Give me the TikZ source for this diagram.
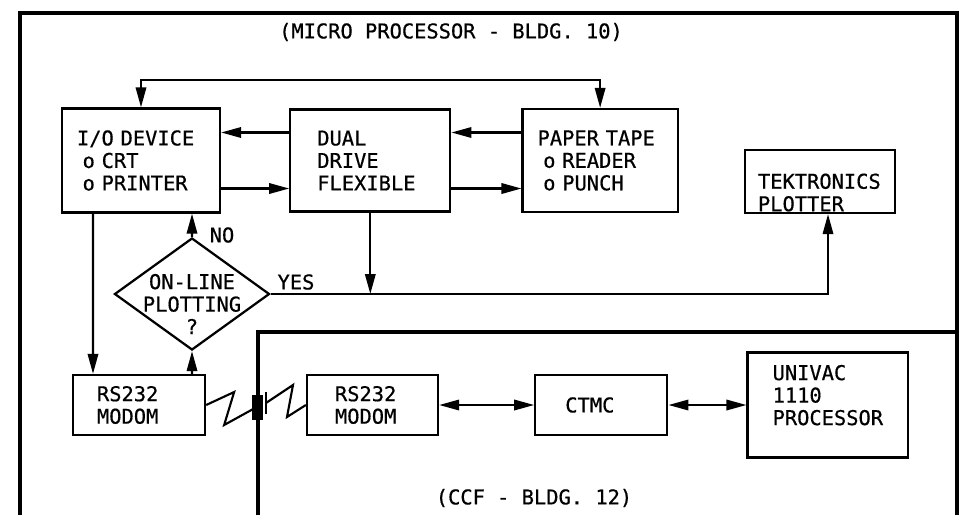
\documentclass[tikz,border=0pt]{standalone}
\usepackage{fontspec}
\newfontfamily\plotfont[FakeBold=0.6]{DejaVu Sans Mono}
\usetikzlibrary{positioning,arrows.meta,calc,shapes.geometric}
\tikzset{
  flow/.style={-{Triangle[length=5mm,width=2.6mm]},line width=1.5pt},
  dflow/.style={{Triangle[length=5mm,width=2.6mm]}-{Triangle[length=5mm,width=2.6mm]},line width=1.5pt},
  wire/.style={line width=1.5pt,line join=miter},
  wall/.style={line width=3.4pt},
  box/.style={draw,line width=1.6pt,align=left,inner ysep=0pt,
    font=\plotfont\fontsize{14.5}{16}\selectfont},
  decision/.style={diamond,draw,line width=1.6pt,inner sep=0pt,
    minimum width=3.875cm,minimum height=2.8cm},
  caption/.style={inner sep=0pt,align=center,
    font=\plotfont\fontsize{14.5}{16}\selectfont}
}

\begin{document}
\begin{tikzpicture}[x=0.025cm,y=-0.025cm]
  \useasboundingbox (0,0) rectangle (971,515);
  % building walls
  \draw[wall] (20,515) -- (20,13) -- (957,13) -- (957,515);
  \draw[wall] (258,515) -- (258,332) -- (957,332);
  \node[caption] (micro) at (451,32) {(MICRO PROCESSOR - BLDG. 10)};
  \node[caption] (ccf) at (534,498) {(CCF - BLDG. 12)};

  % micro processor side
  \node[box,minimum width=3.95cm,minimum height=2.6cm,inner xsep=0.375cm,text width=3.2cm]
    (io) at (141,160.5) {I/O DEVICE\\\hspace*{4pt}o CRT\\\hspace*{4pt}o PRINTER};
  \node[box,right=1.7cm of io,minimum width=4cm,minimum height=2.55cm,inner xsep=0.675cm,text width=2.65cm]
    (dual) {DUAL\\DRIVE\\FLEXIBLE};
  \node[box,right=1.75cm of dual,minimum width=3.875cm,minimum height=2.575cm,inner xsep=0.375cm,text width=3.125cm]
    (tape) {PAPER TAPE\\\hspace*{4pt}o READER\\\hspace*{4pt}o PUNCH};
  \node[box,minimum width=3.75cm,minimum height=1.575cm,inner xsep=0.325cm,text width=3.1cm]
    (tek) at (820,181.5) {\rule{0pt}{0.93cm}TEKTRONICS\\PLOTTER};
  \node[decision] (plot) at (192,294) {};
  \node[caption] (plottxt) at (192,304) {ON-LINE\\PLOTTING\\?};
  \node[box,minimum width=3.3cm,minimum height=1.5cm,inner xsep=0.6cm,text width=2.1cm]
    (modemA) at (139,405) {RS232\\MODOM};

  % CCF side
  \node[box,minimum width=3.275cm,minimum height=1.5cm,inner xsep=0.7cm,text width=1.875cm]
    (modemB) at (372.5,405) {RS232\\MODOM};
  \node[box,right=2.375cm of modemB,minimum width=3.3cm,minimum height=1.5cm,inner xsep=0.75cm,text width=1.8cm]
    (ctmc) {CTMC};
  \node[box,right=1.95cm of ctmc,minimum width=4cm,minimum height=2.625cm,inner xsep=0.625cm,text width=2.75cm]
    (univac) {UNIVAC\\1110\\PROCESSOR\rule[-0.5cm]{0pt}{0pt}};

  \node[caption] (no) at (222,235) {NO};
  \node[caption] (yes) at (296,282) {YES};

  % connectors
  \coordinate (loop) at (400,80);
  \draw[dflow] (io.north) |- (loop) -| (tape.north);
  \draw[flow] ([yshift=0.7cm]dual.west) -- ([yshift=0.7cm]io.east);
  \draw[flow] ([yshift=-0.7cm]io.east) -- ([yshift=-0.7cm]dual.west);
  \draw[flow] ([yshift=0.7cm]tape.west) -- ([yshift=0.7cm]dual.east);
  \draw[flow] ([yshift=-0.7cm]dual.east) -- ([yshift=-0.7cm]tape.west);
  \draw[flow] ([xshift=-1.2cm]io.south) -- ([xshift=-1.15cm]modemA.north);
  \draw[flow] (plot.north) -- ([xshift=1.275cm]io.south);
  \draw[flow] ([xshift=1.325cm]modemA.north) -- (plot.south);
  \draw[flow] (plot.east) -| ([xshift=0.2cm]tek.south);
  \draw[flow] (dual.south) -- (dual.south |- plot.east);
  \draw[dflow] (modemB.east) -- (ctmc.west);
  \draw[dflow] (ctmc.east) -- (univac.west);

  % phone line
  \coordinate (jackA) at (255,408);
  \coordinate (jackB) at (266,403);
  \draw[wire] (modemA.east) -- ++(28,-13) -- ++(-10,33) -- (jackA);
  \draw[wire] (jackB) -- ++(27,-18) -- ++(-6,32) -- (modemB.west);
  \fill (252,395) rectangle (263,420);
  \draw[wire] (266,392) -- (266,414);
\end{tikzpicture}
\end{document}
